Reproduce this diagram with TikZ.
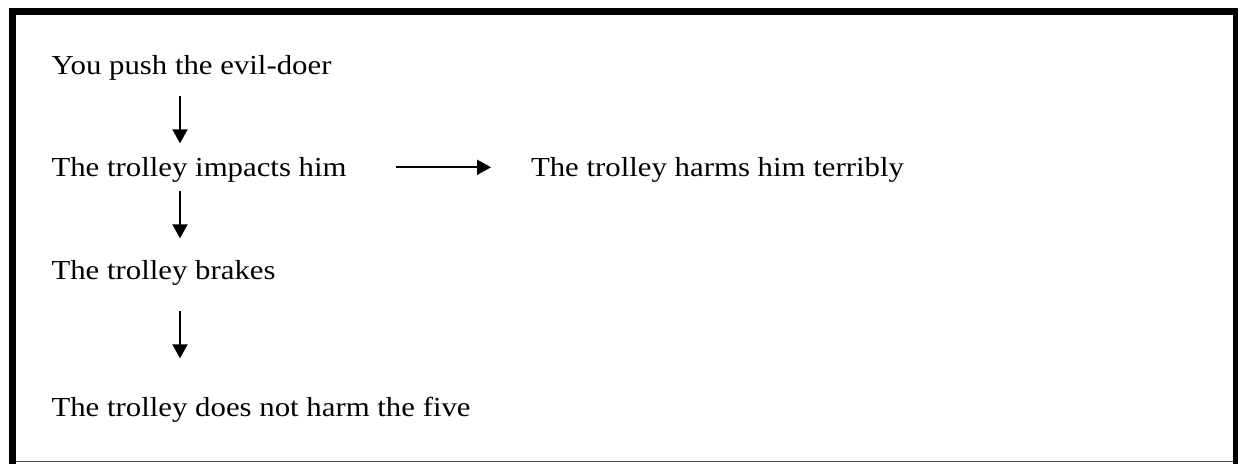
\documentclass[tikz,border=0pt]{standalone}
\usepackage{fontspec}
\setmainfont[FakeStretch=1.12]{Liberation Serif}
\usetikzlibrary{arrows.meta}
\begin{document}
\begin{tikzpicture}[x=1pt,y=-1pt,
  txt/.style={anchor=base west,inner sep=0pt,outer sep=0pt,font=\fontsize{27.5}{32}\selectfont,text height=18.4pt,text depth=5.9pt},
  arr/.style={line width=2pt,-{Triangle[length=14pt,width=15pt]}}]
\useasboundingbox (0,0) rectangle (1238,463);
\clip (0,0) rectangle (1238,463);
% frame
\draw[line width=7pt] (12.5,470) -- (12.5,11.5) -- (1236,11.5) -- (1236,470);
\draw[line width=1.5pt,black!70] (16,461.5) -- (1233,461.5);
% nodes
\node[txt] (n1) at (51.5,74) {You push the evil-doer};
\node[txt] (n2) at (51.5,176.5) {The trolley impacts him};
\node[txt] (n3) at (51.5,279.3) {The trolley brakes};
\node[txt] (n4) at (51.5,416.7) {The trolley does not harm the five};
\node[txt] (n5) at (531,176.5) {The trolley harms him terribly};
\coordinate (ax) at (180,0);
\coordinate (hx1) at (396,0);
\coordinate (hx2) at (491,0);
% connectors
\draw[arr,shorten <=16pt,shorten >=14.8pt] (n1.south -| ax) -- (n2.north -| ax);
\draw[arr,shorten <=8.3pt,shorten >=22.6pt] (n2.south -| ax) -- (n3.north -| ax);
\draw[arr,shorten <=25.8pt,shorten >=40pt] (n3.south -| ax) -- (n4.north -| ax);
\draw[arr] ([yshift=9.2pt]n2.base east -| hx1) -- ([yshift=9.2pt]n5.base west -| hx2);
\end{tikzpicture}
\end{document}
